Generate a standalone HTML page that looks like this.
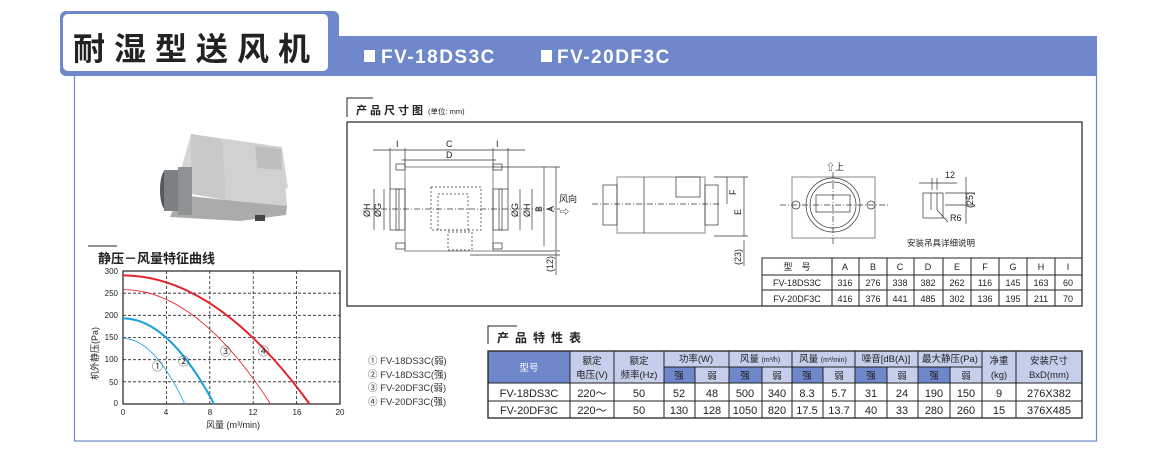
<!DOCTYPE html>
<html><head><meta charset="utf-8"><style>
html,body{margin:0;padding:0;background:#fff;}
body{width:1163px;height:462px;overflow:hidden;position:relative;font-family:"Liberation Sans","Noto Sans CJK SC",sans-serif;}
svg{position:absolute;left:0;top:0}
text{font-family:"Liberation Sans","Noto Sans CJK SC",sans-serif;}
</style></head><body>
<svg width="1163" height="462" viewBox="0 0 1163 462">
<!-- frame -->
<rect x="330" y="36" width="767" height="40" fill="#6f88cb"/>
<rect x="74.5" y="60" width="1022" height="381" fill="none" stroke="#6f88cb" stroke-width="1.2"/>
<rect x="60" y="11" width="279" height="65" rx="6" fill="#6f88cb"/>
<rect x="63" y="14" width="265" height="57" rx="5" fill="#fff"/>
<text x="73" y="60" font-size="32" font-weight="bold" fill="#222" letter-spacing="9">耐湿型送风机</text>
<rect x="364" y="50" width="11" height="12" fill="#fff"/>
<text x="381" y="63" font-size="19" font-weight="bold" fill="#fff" letter-spacing="1.5">FV-18DS3C</text>
<rect x="541" y="50" width="11" height="12" fill="#fff"/>
<text x="557" y="63" font-size="19" font-weight="bold" fill="#fff" letter-spacing="1.5">FV-20DF3C</text>

<!-- photo -->
<g>
<polygon points="191,134 282,147 288,188 240,196 178,180" fill="#d4d6d6"/>
<polygon points="191,134 222,139 226,200 191,194" fill="#c8c9ca"/>
<polygon points="222,139 282,147 287,206 226,200" fill="#cfd1d2"/>
<polygon points="255,146 281,149 282,170 257,168" fill="#bcbebf"/>
<polygon points="180,195 226,200 287,206 286,215 240,221 170,217" fill="#a9abac"/>
<ellipse cx="166" cy="190" rx="6" ry="20" fill="#55585a"/>
<rect x="164" y="170" width="20" height="41" fill="#7c8082"/>
<rect x="178" y="167" width="14" height="48" fill="#8e9293"/>
<rect x="255" y="215" width="10" height="6" fill="#444"/>
</g>

<!-- chart header -->
<line x1="88" y1="246" x2="117" y2="246" stroke="#222"/>
<text x="98" y="263" font-size="13" font-weight="bold" fill="#222">静压－风量特征曲线</text>
<!-- chart -->
<g stroke="#222" stroke-width="0.8" stroke-dasharray="3,2" fill="none">
<line x1="166.4" y1="271" x2="166.4" y2="404"/><line x1="209.8" y1="271" x2="209.8" y2="404"/>
<line x1="253.2" y1="271" x2="253.2" y2="404"/><line x1="296.6" y1="271" x2="296.6" y2="404"/>
<line x1="123" y1="381.8" x2="340" y2="381.8"/><line x1="123" y1="359.7" x2="340" y2="359.7"/>
<line x1="123" y1="337.5" x2="340" y2="337.5"/><line x1="123" y1="315.3" x2="340" y2="315.3"/>
<line x1="123" y1="293.2" x2="340" y2="293.2"/>
</g>
<rect x="123" y="271" width="217" height="133" fill="none" stroke="#222" stroke-width="1.2"/>
<path d="M123,275.4 Q216.3,275.4 309.6,404" fill="none" stroke="#e2242b" stroke-width="2"/>
<path d="M123,289.6 Q196.8,289.6 270.6,404" fill="none" stroke="#e2242b" stroke-width="0.8"/>
<path d="M123,318.4 Q168.6,318.4 214.1,404" fill="none" stroke="#1ba0dc" stroke-width="2"/>
<path d="M123,338.4 Q153.9,338.4 184.8,404" fill="none" stroke="#1ba0dc" stroke-width="0.8"/>
<g font-size="8" fill="#222">
<text x="118" y="274" text-anchor="end">300</text><text x="118" y="296" text-anchor="end">250</text>
<text x="118" y="318" text-anchor="end">200</text><text x="118" y="340" text-anchor="end">150</text>
<text x="118" y="362" text-anchor="end">100</text><text x="118" y="385" text-anchor="end">50</text>
<text x="118" y="406" text-anchor="end">0</text>
<text x="123" y="415" text-anchor="middle">0</text><text x="166" y="415" text-anchor="middle">4</text>
<text x="210" y="415" text-anchor="middle">8</text><text x="253" y="415" text-anchor="middle">12</text>
<text x="297" y="415" text-anchor="middle">16</text><text x="340" y="415" text-anchor="middle">20</text>
</g>
<text x="206" y="428" font-size="9" fill="#222">风量 (m³/min)</text>
<text transform="translate(98,380) rotate(-90)" font-size="9" fill="#222">机外静压(Pa)</text>
<g font-size="11" fill="#333">
<text x="152" y="370">①</text><text x="178" y="365">②</text><text x="220" y="355">③</text><text x="258" y="355">④</text>
</g>
<g font-size="9.5" fill="#333">
<text x="368" y="364">① FV-18DS3C(弱)</text>
<text x="368" y="378">② FV-18DS3C(强)</text>
<text x="368" y="391">③ FV-20DF3C(弱)</text>
<text x="368" y="405">④ FV-20DF3C(强)</text>
</g>

<!-- dimension drawing -->
<polyline points="347,117 347,98 373,98" fill="none" stroke="#222"/>
<text x="356" y="114" font-size="11" font-weight="bold" fill="#222" letter-spacing="3">产品尺寸图</text>
<text x="428" y="114" font-size="7.5" fill="#222">(单位: mm)</text>
<rect x="347" y="122" width="735" height="184" fill="none" stroke="#222" stroke-width="1.2"/>
<g stroke="#333" stroke-width="0.7" fill="none">
<rect x="405" y="167" width="88" height="84" stroke="#888" stroke-width="1"/>
<rect x="390" y="189" width="15" height="41"/><rect x="493" y="189" width="15" height="41"/>
<rect x="396" y="189" width="3" height="41"/><rect x="499" y="189" width="3" height="41"/>
<line x1="370" y1="209" x2="560" y2="209" stroke-dasharray="6,2,1,2"/>
<rect x="431" y="187" width="50" height="43" stroke-dasharray="2,2"/>
<rect x="438" y="194" width="30" height="36" stroke-dasharray="2,2"/>
<rect x="448" y="232" width="24" height="18" stroke-dasharray="2,2"/>
<line x1="374" y1="189" x2="374" y2="230"/><line x1="384" y1="189" x2="384" y2="230"/>
<line x1="520" y1="189" x2="520" y2="230"/><line x1="532" y1="189" x2="532" y2="230"/>
<line x1="544" y1="167" x2="544" y2="246"/><line x1="556" y1="167" x2="556" y2="251"/>
<line x1="556" y1="252" x2="556" y2="275"/>
<line x1="493" y1="167" x2="560" y2="167"/><line x1="493" y1="251" x2="560" y2="251"/><line x1="470" y1="255" x2="560" y2="255"/>
<line x1="373" y1="150" x2="525" y2="150"/><line x1="402" y1="160" x2="496" y2="160"/>
<line x1="390" y1="148" x2="390" y2="189"/><line x1="405" y1="148" x2="405" y2="167"/>
<line x1="493" y1="148" x2="493" y2="167"/><line x1="508" y1="148" x2="508" y2="189"/>
<rect x="396" y="164" width="9" height="6"/><rect x="493" y="164" width="9" height="6"/>
<rect x="396" y="243" width="9" height="6"/><rect x="493" y="243" width="9" height="6"/>
<rect x="617" y="177" width="88" height="56" stroke="#888" stroke-width="1"/>
<rect x="603" y="185" width="14" height="40"/><rect x="705" y="185" width="13" height="40"/>
<rect x="676" y="177" width="24" height="20"/>
<line x1="592" y1="204" x2="720" y2="204" stroke-dasharray="6,2,1,2"/>
<line x1="644" y1="177" x2="644" y2="233"/>
<line x1="714" y1="177" x2="748" y2="177"/><line x1="714" y1="236" x2="748" y2="236"/>
<line x1="727" y1="177" x2="727" y2="204"/><line x1="744" y1="177" x2="744" y2="236"/><line x1="744" y1="240" x2="744" y2="266"/>
<rect x="792" y="177" width="83" height="61" stroke="#888" stroke-width="1"/>
<circle cx="833" cy="205" r="27"/><circle cx="833" cy="205" r="23"/>
<rect x="816" y="195" width="34" height="17"/>
<line x1="780" y1="205" x2="888" y2="205" stroke-dasharray="6,2,1,2"/>
<line x1="833" y1="172" x2="833" y2="246" stroke-dasharray="6,2,1,2"/>
<circle cx="796" cy="205" r="4"/><circle cx="871" cy="205" r="4"/>
<rect x="923" y="193" width="20" height="25"/>
<line x1="931" y1="193" x2="931" y2="210"/><line x1="937" y1="193" x2="937" y2="210"/>
<line x1="919" y1="183" x2="957" y2="183"/>
<line x1="932" y1="178" x2="932" y2="190"/><line x1="937" y1="178" x2="937" y2="190"/>
<line x1="945" y1="193" x2="975" y2="193"/><line x1="945" y1="205" x2="975" y2="205"/>
<line x1="966" y1="177" x2="966" y2="224"/>
<line x1="937" y1="210" x2="948" y2="222"/>
</g>
<g font-size="9" fill="#222">
<text x="396" y="147">I</text><text x="446" y="147">C</text><text x="496" y="147">I</text><text x="446" y="158">D</text>
<text transform="translate(370,217) rotate(-90)">ØH</text><text transform="translate(381,217) rotate(-90)">ØG</text>
<text transform="translate(518,217) rotate(-90)">ØG</text><text transform="translate(530,217) rotate(-90)">ØH</text>
<text transform="translate(542,212) rotate(-90)">B</text><text transform="translate(554,212) rotate(-90)">A</text>
<text transform="translate(553,272) rotate(-90)">(12)</text>
<text x="559" y="202">风向</text><text x="560" y="215">⇨</text>
<text transform="translate(736,195) rotate(-90)">F</text><text transform="translate(741,215) rotate(-90)">E</text>
<text transform="translate(741,265) rotate(-90)">(23)</text>
<text x="826" y="170">⇧上</text>
<text x="945" y="178">12</text><text transform="translate(973,208) rotate(-90)">(25)</text>
<text x="950" y="221">R6</text>
<text x="907" y="246" font-size="8.5">安装吊具详细说明</text>
</g>
<g stroke="#222" stroke-width="1" fill="none">
<rect x="762" y="258" width="320" height="48"/>
<line x1="762" y1="275" x2="1082" y2="275"/><line x1="762" y1="290" x2="1082" y2="290"/>
<line x1="832" y1="258" x2="832" y2="306"/><line x1="859" y1="258" x2="859" y2="306"/>
<line x1="887" y1="258" x2="887" y2="306"/><line x1="914" y1="258" x2="914" y2="306"/>
<line x1="943" y1="258" x2="943" y2="306"/><line x1="971" y1="258" x2="971" y2="306"/>
<line x1="999" y1="258" x2="999" y2="306"/><line x1="1027" y1="258" x2="1027" y2="306"/>
<line x1="1055" y1="258" x2="1055" y2="306"/>
</g>
<g font-size="9" fill="#222" text-anchor="middle">
<text x="797" y="270">型　号</text><text x="845" y="270">A</text><text x="873" y="270">B</text><text x="900" y="270">C</text><text x="928" y="270">D</text><text x="957" y="270">E</text><text x="985" y="270">F</text><text x="1013" y="270">G</text><text x="1041" y="270">H</text><text x="1068" y="270">I</text>
<text x="797" y="286">FV-18DS3C</text><text x="845" y="286">316</text><text x="873" y="286">276</text><text x="900" y="286">338</text><text x="928" y="286">382</text><text x="957" y="286">262</text><text x="985" y="286">116</text><text x="1013" y="286">145</text><text x="1041" y="286">163</text><text x="1068" y="286">60</text>
<text x="797" y="302">FV-20DF3C</text><text x="845" y="302">416</text><text x="873" y="302">376</text><text x="900" y="302">441</text><text x="928" y="302">485</text><text x="957" y="302">302</text><text x="985" y="302">136</text><text x="1013" y="302">195</text><text x="1041" y="302">211</text><text x="1068" y="302">70</text>
</g>

<!-- perf table -->
<polyline points="488,344 488,326 517,326" fill="none" stroke="#222"/>
<text x="497" y="342" font-size="12" font-weight="bold" fill="#222" letter-spacing="6">产品特性表</text>
<rect x="488" y="351" width="594" height="32" fill="#c5cfec"/>
<rect x="488" y="351" width="82" height="32" fill="#6f88cb"/>
<g fill="#6f88cb">
<rect x="664" y="367" width="31" height="16"/><rect x="729" y="367" width="33" height="16"/>
<rect x="792" y="367" width="31" height="16"/><rect x="855" y="367" width="32" height="16"/>
<rect x="918" y="367" width="32" height="16"/>
</g>
<g stroke="#222" stroke-width="1" fill="none">
<rect x="488" y="351" width="594" height="67" stroke-width="1.3"/>
<line x1="664" y1="367" x2="982" y2="367"/>
<line x1="488" y1="383" x2="1082" y2="383"/><line x1="488" y1="401" x2="1082" y2="401"/>
<line x1="570" y1="351" x2="570" y2="418"/><line x1="614" y1="351" x2="614" y2="418"/>
<line x1="664" y1="351" x2="664" y2="418"/><line x1="695" y1="367" x2="695" y2="418"/>
<line x1="729" y1="351" x2="729" y2="418"/><line x1="762" y1="367" x2="762" y2="418"/>
<line x1="792" y1="351" x2="792" y2="418"/><line x1="823" y1="367" x2="823" y2="418"/>
<line x1="855" y1="351" x2="855" y2="418"/><line x1="887" y1="367" x2="887" y2="418"/>
<line x1="918" y1="351" x2="918" y2="418"/><line x1="950" y1="367" x2="950" y2="418"/>
<line x1="982" y1="351" x2="982" y2="418"/><line x1="1016" y1="351" x2="1016" y2="418"/>
</g>
<g font-size="9.5" fill="#222" text-anchor="middle">
<text x="529" y="371" fill="#fff">型号</text>
<text x="592" y="364">额定</text><text x="592" y="378">电压(V)</text>
<text x="639" y="364">额定</text><text x="639" y="378">频率(Hz)</text>
<text x="696" y="362">功率(W)</text>
<text x="760" y="362">风量 <tspan font-size="7">(m³/h)</tspan></text>
<text x="823" y="362">风量 <tspan font-size="7">(m³/min)</tspan></text>
<text x="886" y="362">噪音[dB(A)]</text>
<text x="950" y="362">最大静压(Pa)</text>
<text x="999" y="364">净重</text><text x="999" y="378">(kg)</text>
<text x="1049" y="364">安装尺寸</text><text x="1049" y="378">BxD(mm)</text>
<text x="679" y="379">强</text><text x="712" y="379">弱</text><text x="745" y="379">强</text><text x="777" y="379">弱</text>
<text x="807" y="379">强</text><text x="839" y="379">弱</text><text x="871" y="379">强</text><text x="902" y="379">弱</text>
<text x="934" y="379">强</text><text x="966" y="379">弱</text>
</g>
<g font-size="11" fill="#222" text-anchor="middle">
<text x="529" y="397">FV-18DS3C</text><text x="592" y="397">220～</text><text x="639" y="397">50</text>
<text x="679" y="397">52</text><text x="712" y="397">48</text><text x="745" y="397">500</text><text x="777" y="397">340</text>
<text x="807" y="397">8.3</text><text x="839" y="397">5.7</text><text x="871" y="397">31</text><text x="902" y="397">24</text>
<text x="934" y="397">190</text><text x="966" y="397">150</text><text x="999" y="397">9</text><text x="1049" y="397">276X382</text>
<text x="529" y="414">FV-20DF3C</text><text x="592" y="414">220～</text><text x="639" y="414">50</text>
<text x="679" y="414">130</text><text x="712" y="414">128</text><text x="745" y="414">1050</text><text x="777" y="414">820</text>
<text x="807" y="414">17.5</text><text x="839" y="414">13.7</text><text x="871" y="414">40</text><text x="902" y="414">33</text>
<text x="934" y="414">280</text><text x="966" y="414">260</text><text x="999" y="414">15</text><text x="1049" y="414">376X485</text>
</g>
</svg>
</body></html>
